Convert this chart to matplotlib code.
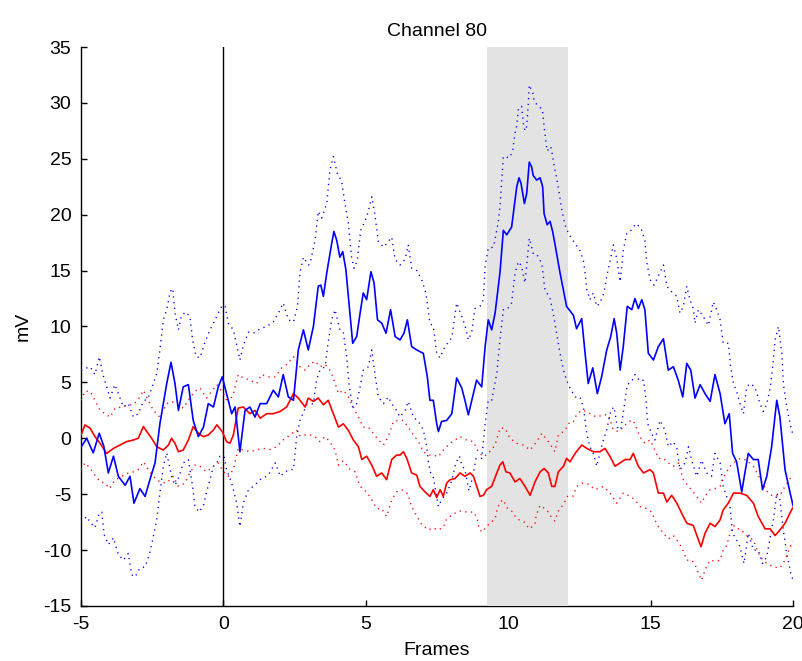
import matplotlib
matplotlib.use("Agg")
import matplotlib.pyplot as plt
import numpy as np

plt.rcParams['font.family'] = ['Liberation Sans', 'DejaVu Sans']
plt.rcParams['axes.unicode_minus'] = False

# ---- data ----
blue_mean_x = [-5.0, -4.8, -4.57, -4.36, -4.2, -4.04, -3.86, -3.69, -3.45, -3.28, -3.14, -2.93, -2.75, -2.58,
               -2.4, -2.23, -1.99, -1.84, -1.7, -1.58, -1.41, -1.23, -1.06, -0.88, -0.7, -0.53, -0.35, -0.18,
               -0.04, 0.11, 0.29, 0.41, 0.58, 0.76, 0.93, 1.11, 1.29, 1.52, 1.75, 1.93, 2.1, 2.28, 2.46, 2.63,
               2.81, 2.98, 3.16, 3.33, 3.42, 3.51, 3.63, 3.8, 3.88, 3.98, 4.09, 4.19, 4.3, 4.42, 4.54, 4.68,
               4.8, 4.91, 5.03, 5.18, 5.29, 5.41, 5.56, 5.71, 5.87, 6.03, 6.2, 6.34, 6.46, 6.61, 6.79, 7.02,
               7.16, 7.25, 7.37, 7.49, 7.55, 7.66, 7.84, 8.02, 8.19, 8.37, 8.48, 8.6, 8.78, 8.89, 9.07, 9.19,
               9.3, 9.42, 9.54, 9.71, 9.83, 9.95, 10.12, 10.18, 10.3, 10.38, 10.45, 10.51, 10.57, 10.65, 10.74,
               10.82, 10.88, 11.0, 11.12, 11.21, 11.26, 11.37, 11.47, 11.56, 11.64, 11.82, 12.05, 12.29, 12.4,
               12.58, 12.7, 12.81, 12.97, 13.13, 13.28, 13.46, 13.6, 13.72, 13.81, 13.93, 14.04, 14.18, 14.34,
               14.45, 14.57, 14.69, 14.8, 14.92, 15.1, 15.27, 15.45, 15.62, 15.8, 15.97, 16.13, 16.27, 16.41,
               16.56, 16.74, 16.91, 17.09, 17.26, 17.44, 17.61, 17.76, 17.88, 18.02, 18.2, 18.31, 18.43, 18.61,
               18.78, 18.93, 19.08, 19.25, 19.43, 19.54, 19.72, 19.9, 20.0]
blue_mean_y = [-0.8, 0.0, -1.3, 0.45, -0.7, -3.1, -1.6, -3.4, -4.2, -3.4, -5.8, -4.5, -5.2, -3.7,
               -2.2, 1.3, 4.9, 6.8, 4.9, 2.5, 4.6, 4.8, 1.6, 0.15, 1.0, 3.1, 2.8, 4.6,
               5.5, 4.0, 2.2, 2.8, -1.2, 2.5, 2.8, 1.9, 3.1, 3.1, 4.3, 3.7, 5.7, 3.7, 3.4, 7.9,
               9.7, 7.9, 10.0, 13.6, 13.7, 12.7, 14.8, 17.4, 18.5, 17.7, 16.2, 16.7, 15.1, 11.8, 8.5, 9.1,
               11.2, 13.0, 12.4, 14.9, 13.9, 10.6, 10.3, 9.4, 11.5, 9.1, 8.8, 9.4, 10.6, 8.2, 7.9, 7.6,
               5.5, 3.4, 3.4, 1.3, 0.6, 1.5, 1.6, 2.2, 5.4, 4.5, 3.4, 2.1, 4.0, 5.2, 4.6, 8.2,
               10.6, 9.7, 11.2, 14.8, 18.6, 18.2, 18.9, 20.1, 22.5, 23.3, 22.8, 21.9, 21.0, 21.9, 24.7,
               24.3, 23.5, 23.1, 23.3, 22.5, 20.1, 19.1, 19.4, 18.5, 17.4, 14.8, 11.8, 11.0, 9.8,
               10.7, 7.6, 4.9, 6.3, 4.0, 5.5, 7.9, 9.1, 10.7, 9.4, 6.1, 8.2, 11.8, 11.5,
               12.5, 11.6, 12.4, 11.5, 7.6, 7.0, 8.2, 8.9, 6.1, 6.4, 5.2, 3.7, 6.7, 6.1,
               3.6, 4.8, 4.0, 3.3, 5.7, 4.0, 1.3, 2.2, -1.35, -2.1, -4.8, -3.1, -1.35, -1.9,
               -1.9, -4.6, -3.4, -0.75, 3.4, 1.9, -2.8, -4.9, -6.0]

blue_upper_x = [-5.0, -4.68, -4.51, -4.36, -4.24, -4.16, -3.98, -3.81, -3.69, -3.51, -3.34, -3.16, -2.99, -2.81,
                -2.64, -2.46, -2.34, -2.23, -2.11, -1.99, -1.87, -1.78, -1.7, -1.58, -1.47, -1.32, -1.18, -1.08,
                -0.96, -0.82, -0.65, -0.47, -0.33, -0.18, -0.04, 0.06, 0.17, 0.35, 0.47, 0.58, 0.7, 0.88, 1.05,
                1.29, 1.52, 1.75, 1.93, 2.1, 2.28, 2.46, 2.6, 2.69, 2.81, 2.98, 3.04, 3.22, 3.33, 3.45, 3.63,
                3.74, 3.86, 4.0, 4.15, 4.27, 4.39, 4.5, 4.59, 4.7, 4.82, 4.97, 5.09, 5.21, 5.32, 5.44, 5.62,
                5.79, 5.91, 6.03, 6.2, 6.38, 6.49, 6.61, 6.79, 6.96, 7.11, 7.25, 7.37, 7.49, 7.6, 7.78, 8.02,
                8.19, 8.37, 8.48, 8.6, 8.72, 8.83, 9.01, 9.13, 9.19, 9.3, 9.48, 9.54, 9.65, 9.71, 9.77, 9.83,
                10.06, 10.16, 10.24, 10.3, 10.36, 10.47, 10.53, 10.59, 10.65, 10.71, 10.74, 10.86, 10.92, 11.03,
                11.2, 11.26, 11.33, 11.37, 11.49, 11.55, 11.64, 11.7, 11.8, 11.89, 11.96, 12.03, 12.17, 12.35,
                12.52, 12.64, 12.7, 12.76, 12.87, 12.99, 13.11, 13.22, 13.36, 13.46, 13.58, 13.69, 13.81, 13.93,
                14.04, 14.16, 14.28, 14.39, 14.51, 14.69, 14.8, 14.86, 14.98, 15.12, 15.27, 15.45, 15.57, 15.74,
                15.92, 16.03, 16.15, 16.27, 16.38, 16.5, 16.56, 16.68, 16.85, 17.03, 17.2, 17.32, 17.44, 17.55,
                17.73, 17.81, 17.91, 18.02, 18.14, 18.26, 18.37, 18.49, 18.66, 18.84, 18.96, 19.08, 19.2, 19.31,
                19.37, 19.49, 19.61, 19.66, 19.78, 19.9, 20.0]
blue_upper_y = [6.1, 6.4, 5.7, 7.3, 5.8, 5.1, 3.6, 4.8, 4.0, 2.8, 3.1, 1.9, 2.2, 3.3,
                3.6, 4.9, 5.8, 7.9, 10.6, 11.5, 13.1, 13.4, 11.2, 9.7, 11.0, 11.3, 10.9, 8.8,
                7.3, 7.2, 8.6, 9.7, 10.4, 11.2, 11.9, 11.8, 10.3, 9.7, 8.3, 7.0, 8.3, 9.5, 9.4,
                9.8, 10.0, 10.4, 11.2, 12.1, 10.6, 10.4, 11.8, 14.8, 16.2, 15.5, 15.6, 17.7, 20.3, 19.7, 21.0,
                24.0, 25.2, 23.7, 23.0, 21.0, 19.2, 16.2, 15.2, 15.9, 18.6, 19.4, 20.3, 21.6, 20.0, 17.6, 17.1,
                17.6, 18.0, 16.0, 15.5, 16.0, 17.3, 15.2, 15.0, 14.2, 13.0, 10.3, 10.0, 7.6, 7.2, 8.2, 9.0,
                12.1, 10.9, 10.1, 8.8, 9.5, 11.6, 11.8, 12.4, 15.4, 17.0, 17.1, 17.8, 19.3, 20.7, 23.0, 25.2,
                25.1, 25.8, 27.3, 28.0, 29.5, 29.7, 28.2, 27.5, 27.9, 30.1, 31.6, 30.9, 30.1, 29.8,
                29.4, 27.9, 26.4, 25.7, 26.1, 25.4, 24.0, 23.3, 21.8, 20.3, 19.5, 18.8, 18.1, 17.4,
                16.8, 15.9, 14.8, 13.3, 12.4, 13.0, 11.8, 12.1, 13.0, 14.5, 15.9, 17.3, 16.1, 14.0,
                16.8, 18.3, 18.5, 18.9, 19.2, 18.6, 17.7, 15.8, 14.2, 13.7, 14.5, 15.5, 13.6, 13.1,
                12.7, 11.2, 11.8, 13.6, 12.4, 11.6, 10.3, 11.5, 10.9, 10.1, 12.2, 11.5, 10.6, 8.5,
                8.5, 6.4, 4.9, 4.2, 3.1, 2.2, 4.6, 4.9, 4.6, 3.1, 2.4, 3.1, 4.5, 7.0,
                8.8, 10.0, 7.6, 4.9, 2.8, 1.3, 0.3]

blue_lower_x = [-5.0, -4.8, -4.68, -4.51, -4.36, -4.27, -4.19, -4.04, -3.86, -3.69, -3.51, -3.34, -3.22, -3.1,
                -2.93, -2.75, -2.6, -2.46, -2.34, -2.23, -2.11, -1.99, -1.82, -1.7, -1.55, -1.41, -1.23, -1.08,
                -1.0, -0.85, -0.7, -0.59, -0.47, -0.35, -0.23, -0.12, 0.02, 0.11, 0.29, 0.47, 0.58, 0.7, 0.88,
                1.05, 1.29, 1.58, 1.82, 2.0, 2.16, 2.34, 2.46, 2.57, 2.69, 2.92, 3.16, 3.27, 3.39, 3.57, 3.68,
                3.8, 3.92, 4.09, 4.21, 4.33, 4.42, 4.54, 4.68, 4.8, 4.91, 5.09, 5.21, 5.32, 5.44, 5.62, 5.79,
                5.91, 6.03, 6.2, 6.38, 6.49, 6.67, 6.85, 7.02, 7.14, 7.2, 7.26, 7.37, 7.49, 7.55, 7.66, 7.84,
                8.02, 8.15, 8.29, 8.37, 8.48, 8.62, 8.7, 8.78, 8.87, 9.07, 9.19, 9.3, 9.42, 9.6, 9.71, 9.83,
                9.95, 10.12, 10.24, 10.36, 10.47, 10.59, 10.74, 10.88, 11.02, 11.18, 11.29, 11.47, 11.58, 11.7,
                11.82, 11.94, 12.05, 12.17, 12.35, 12.52, 12.64, 12.76, 12.87, 12.99, 13.11, 13.22, 13.34, 13.46,
                13.6, 13.72, 13.83, 13.95, 14.07, 14.18, 14.34, 14.45, 14.63, 14.75, 14.84, 14.9, 15.04, 15.15,
                15.33, 15.5, 15.62, 15.8, 15.92, 16.03, 16.21, 16.33, 16.44, 16.62, 16.79, 16.97, 17.14, 17.26,
                17.44, 17.55, 17.67, 17.79, 17.88, 18.02, 18.14, 18.28, 18.43, 18.61, 18.78, 18.93, 19.08, 19.2,
                19.31, 19.43, 19.54, 19.66, 19.78, 19.95, 20.0]
blue_lower_y = [-7.5, -7.0, -7.5, -8.0, -6.7, -6.6, -8.6, -9.5, -8.9, -10.4, -10.9, -10.3, -12.2, -12.4,
                -11.6, -11.5, -10.4, -8.8, -7.3, -4.9, -2.5, -1.3, -3.4, -4.2, -3.4, -2.2, -1.9, -4.3,
                -6.1, -6.6, -6.0, -4.8, -3.7, -2.5, -2.2, -1.6, -1.6, -2.8, -4.0, -5.8, -7.9, -5.8, -4.6,
                -4.3, -3.7, -3.3, -2.2, -3.4, -3.0, -2.8, -2.8, 0.15, 1.6, 3.0, 3.1, 5.2, 6.1, 6.4, 8.6,
                10.6, 11.5, 9.7, 9.5, 7.3, 4.6, 2.8, 3.1, 4.6, 6.1, 6.4, 7.9, 5.8, 3.7, 3.1, 3.7,
                3.1, 2.7, 1.9, 2.5, 3.3, 1.9, 1.5, 0.75, -0.75, -2.2, -3.0, -3.5, -5.2, -6.1, -5.5, -4.9,
                -3.8, -2.3, -1.6, -2.4, -2.8, -4.7, -4.0, -3.1, -1.8, -1.8, 1.3, 3.4, 3.4, 5.8, 8.8, 11.5,
                11.5, 12.1, 14.8, 15.8, 15.4, 13.9, 17.9, 16.5, 16.4, 15.6, 13.3, 12.5, 11.2, 9.4,
                7.6, 6.1, 5.2, 4.5, 3.7, 3.7, 2.8, 0.4, -0.75, -1.35, -2.5, -1.35, -0.15, 0.75,
                2.5, 2.8, 1.0, 0.75, 2.8, 4.8, 5.1, 5.7, 5.1, 5.2, 3.4, 1.3, 0.4, -0.15,
                1.6, 0.75, -0.75, -0.3, -0.9, -2.8, -2.2, -0.75, -1.95, -3.4, -1.95, -3.1, -3.4, -1.35,
                -2.2, -4.3, -5.2, -6.1, -8.5, -9.1, -9.7, -11.2, -8.5, -10.0, -10.0, -11.2, -10.6, -8.8,
                -7.3, -4.9, -5.5, -8.2, -10.3, -12.4, -12.6]

red_mean_x = [-5.0, -4.86, -4.68, -4.51, -4.33, -4.1, -3.86, -3.63, -3.4, -3.16, -2.99, -2.81, -2.69, -2.52,
              -2.34, -2.11, -1.93, -1.82, -1.7, -1.58, -1.41, -1.23, -1.06, -0.88, -0.7, -0.53, -0.35, -0.23,
              -0.04, 0.11, 0.23, 0.35, 0.52, 0.7, 0.93, 1.11, 1.29, 1.52, 1.75, 1.99, 2.22, 2.46, 2.63, 2.87,
              2.98, 3.16, 3.33, 3.51, 3.68, 3.86, 4.04, 4.21, 4.39, 4.56, 4.74, 4.86, 5.03, 5.21, 5.38, 5.56,
              5.73, 5.91, 6.08, 6.2, 6.32, 6.44, 6.61, 6.79, 6.9, 7.08, 7.25, 7.37, 7.49, 7.61, 7.72, 7.84,
              7.96, 8.13, 8.31, 8.48, 8.66, 8.78, 8.92, 9.01, 9.13, 9.24, 9.42, 9.6, 9.71, 9.81, 9.92, 10.06,
              10.24, 10.41, 10.59, 10.77, 10.94, 11.12, 11.26, 11.41, 11.53, 11.64, 11.76, 11.94, 12.05, 12.17,
              12.35, 12.58, 12.76, 12.99, 13.22, 13.4, 13.58, 13.75, 13.93, 14.1, 14.28, 14.39, 14.57, 14.75,
              14.98, 15.1, 15.27, 15.45, 15.57, 15.74, 15.92, 16.09, 16.27, 16.5, 16.68, 16.77, 16.91, 17.09,
              17.26, 17.44, 17.55, 17.73, 17.91, 18.14, 18.37, 18.61, 18.78, 19.02, 19.2, 19.37, 19.54, 19.72,
              19.95, 20.0]
red_mean_y = [0.3, 1.2, 0.9, 0.15, -0.45, -1.35, -0.9, -0.6, -0.3, -0.15, 0.0, 1.05, 0.6, 0.0,
              -0.75, -1.05, -0.6, 0.0, -0.45, -1.2, -1.05, -0.15, 1.05, 0.45, 0.15, 0.3, 0.75, 1.2,
              0.6, -0.3, -0.45, 0.3, 2.7, 2.8, 2.2, 2.5, 1.8, 2.2, 2.2, 2.4, 2.8, 4.0, 3.6, 2.8,
              3.6, 3.3, 3.6, 3.0, 3.4, 2.2, 1.0, 1.3, 0.7, -0.15, -0.75, -1.9, -1.6, -2.4, -3.4, -3.1,
              -3.7, -1.9, -1.5, -1.5, -1.2, -1.8, -3.1, -3.3, -4.3, -4.8, -5.2, -4.6, -5.3, -4.6, -5.2, -4.0,
              -3.7, -3.6, -3.1, -3.4, -3.1, -3.4, -4.5, -5.2, -5.1, -4.6, -4.3, -3.1, -2.4, -2.1, -3.0, -3.1,
              -3.9, -3.6, -4.3, -5.1, -3.9, -3.0, -2.7, -3.1, -4.3, -4.3, -3.0, -2.5, -1.8, -2.1,
              -1.35, -0.6, -0.9, -1.2, -1.2, -0.9, -1.65, -2.5, -2.2, -1.9, -1.9, -1.35, -2.5, -3.1,
              -2.8, -3.1, -4.9, -4.9, -5.7, -5.1, -5.8, -6.7, -7.6, -7.8, -9.1, -9.7, -8.5, -7.6,
              -7.9, -7.3, -6.4, -5.8, -4.9, -4.9, -5.1, -5.8, -7.0, -8.1, -8.1, -8.7, -8.2, -7.6,
              -6.4, -6.2]

red_upper_x = [-5.0, -4.86, -4.68, -4.51, -4.33, -4.16, -3.98, -3.8, -3.57, -3.34, -3.16, -2.93, -2.81, -2.64,
               -2.46, -2.23, -1.99, -1.82, -1.58, -1.41, -1.18, -1.0, -0.82, -0.59, -0.41, -0.23, 0.0, 0.17,
               0.35, 0.52, 0.7, 0.93, 1.17, 1.34, 1.58, 1.82, 2.05, 2.22, 2.46, 2.69, 2.87, 3.04, 3.22, 3.39,
               3.57, 3.74, 3.86, 4.04, 4.21, 4.39, 4.56, 4.74, 4.91, 5.09, 5.26, 5.44, 5.62, 5.79, 5.97, 6.14,
               6.32, 6.49, 6.67, 6.85, 7.02, 7.2, 7.37, 7.55, 7.72, 7.96, 8.13, 8.31, 8.54, 8.78, 8.95, 9.13,
               9.3, 9.54, 9.71, 9.89, 10.06, 10.3, 10.53, 10.77, 11.0, 11.18, 11.41, 11.53, 11.64, 11.76, 11.99,
               12.17, 12.29, 12.4, 12.58, 12.76, 12.93, 13.11, 13.34, 13.52, 13.69, 13.87, 14.04, 14.22, 14.39,
               14.51, 14.63, 14.8, 14.98, 15.15, 15.27, 15.45, 15.62, 15.8, 15.97, 16.15, 16.33, 16.5, 16.68,
               16.79, 16.91, 17.09, 17.26, 17.44, 17.53, 17.67, 17.79, 17.91, 18.14, 18.37, 18.61, 18.84, 19.13,
               19.31, 19.54, 19.72, 19.9, 20.0]
red_upper_y = [3.4, 4.2, 4.2, 3.4, 2.5, 2.2, 1.9, 2.7, 2.8, 3.0, 3.0, 3.7, 4.3, 3.4,
               2.5, 1.9, 3.1, 3.3, 3.0, 2.7, 3.6, 4.2, 4.5, 3.6, 4.2, 4.8, 4.0, 3.1,
               4.0, 5.7, 5.4, 5.2, 4.9, 5.7, 5.5, 5.5, 6.3, 6.6, 7.3, 6.4, 6.1, 6.6, 6.9, 6.4,
               6.6, 6.1, 5.4, 4.0, 4.3, 3.7, 2.8, 1.9, 1.0, 1.0, 0.45, -0.15, -0.6, 0.15, 1.5, 1.6,
               1.6, 1.0, 0.3, -0.3, -1.2, -1.5, -1.5, -1.65, -1.05, -0.45, -0.15, 0.15, -0.15, -0.3, -1.2, -1.65,
               -1.35, -0.6, 0.9, 0.9, 0.0, -0.45, -0.6, -1.05, -0.3, 0.45, -0.3, -0.75, -1.2, 0.3, 0.7,
               1.5, 1.5, 2.1, 2.5, 2.4, 2.1, 1.9, 2.1, 2.1, 0.75, 0.6, 1.0, 1.5, 1.6,
               0.9, 0.1, -0.45, -0.15, -1.05, -1.8, -1.8, -2.2, -2.5, -2.2, -3.7, -4.3, -4.8, -5.4,
               -5.8, -5.2, -4.6, -4.5, -4.3, -3.6, -3.0, -2.5, -2.2, -1.8, -1.95, -2.5, -3.6, -4.9,
               -5.2, -5.1, -4.3, -3.6, -3.2]

red_lower_x = [-5.0, -4.86, -4.68, -4.51, -4.33, -4.16, -4.0, -3.8, -3.57, -3.34, -3.16, -2.99, -2.81, -2.64,
               -2.46, -2.23, -1.99, -1.76, -1.58, -1.35, -1.18, -1.0, -0.82, -0.59, -0.35, -0.18, 0.0, 0.17,
               0.35, 0.52, 0.7, 0.93, 1.17, 1.4, 1.64, 1.87, 2.1, 2.34, 2.57, 2.69, 2.87, 3.04, 3.22, 3.39,
               3.57, 3.74, 3.92, 4.04, 4.21, 4.45, 4.62, 4.8, 5.03, 5.21, 5.38, 5.56, 5.73, 5.91, 6.08, 6.26,
               6.49, 6.55, 6.67, 6.96, 7.2, 7.37, 7.51, 7.72, 7.82, 8.04, 8.29, 8.58, 8.8, 8.92, 8.98, 9.09,
               9.27, 9.54, 9.6, 9.71, 9.83, 9.95, 10.12, 10.3, 10.57, 10.74, 10.94, 10.98, 11.12, 11.35, 11.53,
               11.64, 11.76, 11.94, 12.08, 12.27, 12.4, 12.58, 12.81, 13.05, 13.34, 13.58, 13.81, 14.04, 14.28,
               14.45, 14.63, 14.86, 15.04, 15.15, 15.27, 15.45, 15.62, 15.8, 16.01, 16.15, 16.27, 16.44, 16.56,
               16.68, 16.79, 16.91, 17.09, 17.26, 17.44, 17.55, 17.67, 17.79, 17.91, 18.02, 18.14, 18.37, 18.61,
               18.84, 19.08, 19.31, 19.54, 19.72, 19.84, 20.0]
red_lower_y = [-2.8, -2.2, -2.7, -3.3, -3.9, -4.0, -4.5, -3.7, -3.4, -3.1, -3.0, -2.8, -2.1, -2.8,
               -3.4, -3.9, -4.0, -3.4, -4.3, -4.0, -3.1, -2.4, -2.5, -3.0, -2.5, -2.2, -3.0, -3.4,
               -2.8, -0.9, -1.05, -1.2, -1.05, -0.9, -1.0, -0.75, -0.15, 0.3, 0.75, 0.2, 0.3, 0.3, 0.15, -0.3,
               0.15, -0.3, -1.05, -2.4, -2.0, -2.8, -3.0, -4.3, -4.8, -5.5, -6.3, -6.3, -7.0, -5.5, -4.8, -4.6,
               -5.0, -5.7, -6.4, -7.7, -8.2, -8.0, -8.2, -8.0, -7.3, -6.8, -6.5, -6.6, -6.6, -7.3, -8.1, -8.4,
               -7.8, -7.2, -6.5, -5.7, -5.5, -6.2, -6.5, -7.2, -7.5, -8.1, -7.7, -6.9, -6.0, -6.4, -7.1,
               -7.4, -6.5, -5.9, -5.2, -5.2, -4.3, -4.0, -4.1, -4.6, -4.3, -4.9, -5.8, -4.9, -5.2,
               -5.5, -6.1, -6.3, -6.6, -7.3, -7.9, -8.5, -9.0, -8.7, -9.4, -10.1, -10.9, -10.9, -11.3,
               -12.1, -12.7, -11.8, -10.9, -11.0, -10.9, -10.0, -9.6, -8.5, -7.8, -8.1, -8.1, -8.7, -9.1,
               -10.6, -11.2, -11.5, -11.6, -10.9, -10.1, -9.2]

highlight_start, highlight_end = 9.25, 12.1
event_frame = 0
x_ticks = [-5, 0, 5, 10, 15, 20]
y_ticks = [-15, -10, -5, 0, 5, 10, 15, 20, 25, 30, 35]
title_text = "Channel 80"
x_label = "Frames"
y_label = "mV"

# ---- figure ----
fig = plt.figure(figsize=(8.03, 6.61), dpi=100)
ax = fig.add_axes([81/803, 1 - 606/661, (793-81)/803, (606-47)/661])

ax.axvspan(highlight_start, highlight_end, color='#e3e3e3', lw=0, zorder=2.6)
ax.axvline(event_frame, color='black', lw=1.0, zorder=2.7)

dot = (0, (0.9, 3.2))
ax.plot(blue_upper_x, blue_upper_y, color='#0000ff', lw=1.0, ls=dot, zorder=3)
ax.plot(blue_lower_x, blue_lower_y, color='#0000ff', lw=1.0, ls=dot, zorder=3)
ax.plot(red_upper_x, red_upper_y, color='#ff0000', lw=1.0, ls=dot, zorder=3)
ax.plot(red_lower_x, red_lower_y, color='#ff0000', lw=1.0, ls=dot, zorder=3)
ax.plot(red_mean_x, red_mean_y, color='#ff0000', lw=1.2, zorder=4)
ax.plot(blue_mean_x, blue_mean_y, color='#0000ff', lw=1.2, zorder=4)

ax.set_xlim(-5, 20)
ax.set_ylim(-15, 35)
ax.set_xticks(x_ticks)
ax.set_yticks(y_ticks)
ax.spines['top'].set_visible(False)
ax.spines['right'].set_visible(False)
for s in ('left', 'bottom'):
    ax.spines[s].set_linewidth(1.0)
    ax.spines[s].set_color('black')
ax.tick_params(direction='in', length=4.5, width=1.0, labelsize=14, pad=7, colors='black')
ax.set_title(title_text, fontsize=14, pad=8)
ax.set_xlabel(x_label, fontsize=14, labelpad=6.5)
ax.set_ylabel(y_label, fontsize=14, labelpad=8.5)

fig.savefig("out.png", dpi=100)
